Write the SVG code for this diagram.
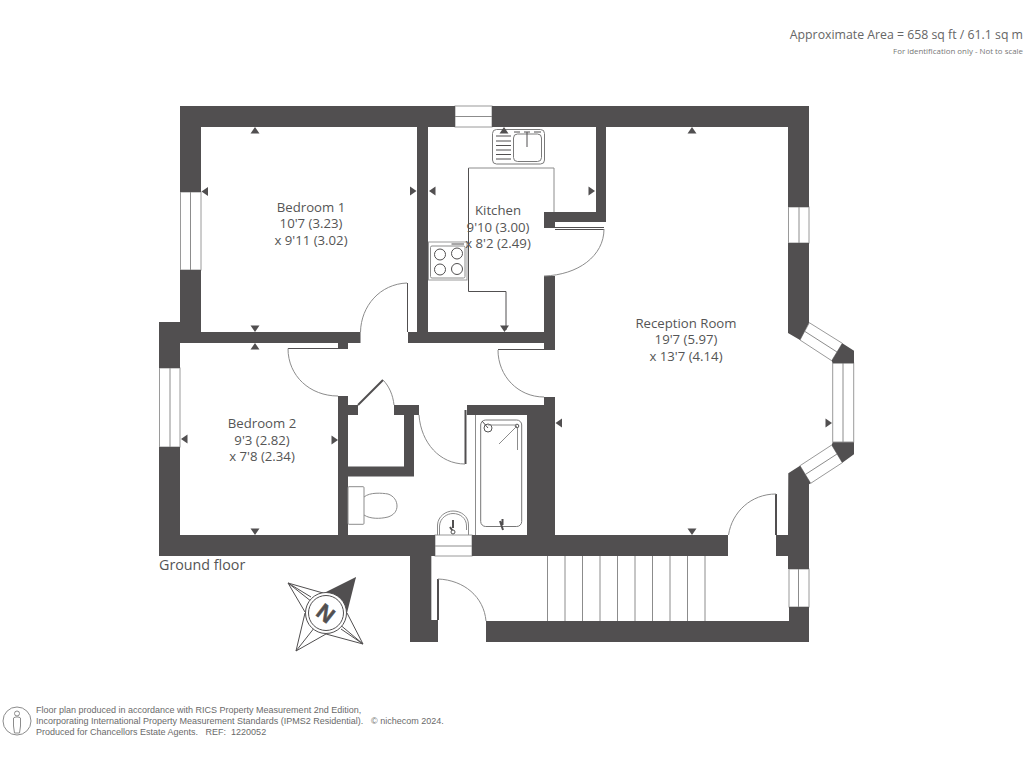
<svg xmlns="http://www.w3.org/2000/svg" width="1024" height="768" viewBox="0 0 1024 768">
<style>
.w{fill:#514f50;stroke:none}
.g{fill:#fff;stroke:#9a9a9a;stroke-width:1}
.l{fill:none;stroke:#8c8c8c;stroke-width:1}
.d{fill:none;stroke:#514f50;stroke-width:1}
.k{fill:none;stroke:#514f50;stroke-width:2}
.t{font-family:"Open Sans","Noto Sans",sans-serif;fill:#555;text-anchor:middle;font-size:13.200px}
.f{font-family:"Liberation Sans",Arial,sans-serif;fill:#6a6a6a;font-size:9px}
</style>
<defs>
<path id="u" class="w" d="M-4.500 6.500L0 0L4.500 6.500Z"/>
</defs>
<rect width="1024" height="768" fill="#fff"/>
<g id="windows">
<rect class="g" x="455" y="106" width="37" height="21"/><path class="l" d="M455 116.500H492"/>
<rect class="g" x="180.500" y="192" width="20.500" height="78"/><path class="l" d="M190.500 192V270"/>
<rect class="g" x="159.500" y="368" width="20.500" height="79"/><path class="l" d="M170 368V447"/>
<rect class="g" x="788.500" y="207" width="20.500" height="36"/><path class="l" d="M799 207V243"/>
<rect class="g" x="832.700" y="363" width="21" height="79"/><path class="l" d="M843 363V442"/>
<rect class="g" x="789" y="569" width="20" height="38"/><path class="l" d="M798.500 569V607"/>
<rect class="g" x="435" y="535" width="37" height="21"/><path class="l" d="M435 546H472"/>
<path class="g" d="M809.300 322.700L842.300 343.300L831.700 360.700L800 340Z"/><path class="l" d="M804.700 331.300L837 352"/>
<path class="g" d="M831.700 445L842.300 462.700L810.700 483.300L800 465.700Z"/><path class="l" d="M837 454L805.300 474.500"/>
</g>
<g id="walls">
<path class="w" d="M180 106H455V127H201V192H180ZM492 106H809V207H788V127H606V222H555V228H544V212H596V127H492ZM180 270H201V332H360.500V343H180ZM417 127H428V332H544V276H555V350H544V343H408V332H417Z"/>
<path class="w" d="M788 243H809V322.700L800 340L788 333ZM842.300 343.300L854 350.700V363.300H832.700L831.700 360.700ZM832.700 442.300H854V454.300L842.300 462.700L831.700 445ZM788.300 473.300L800 465.700L810.700 483.300L809 484.300V569H788V556H776V535H788Z"/>
<path class="w" d="M159 322H180V368H159ZM159 447H180V535H338V396H348V535H435V556H159ZM472 535H728V556H555V535H527V415H467V405H544V397H555V535H555V556H472ZM338 343H348V349H338Z"/>
<path class="w" d="M789 607H809V642H486V621H789ZM410 556H431V620H438V642H410Z"/>
<path class="w" d="M348 405H358V415H348ZM394 405H419V415H414V476.500H348V466.500H404V415H394Z"/>
</g>
<g id="doors">
<path class="d" d="M288 348.500H338"/><path class="l" d="M288 348.500C288 376 310 396 338 396"/>
<path class="d" d="M407.500 283V332" stroke-width="2"/><path class="l" d="M407 283C380 284 361 306 360.500 332"/>
<path class="d" d="M498 349.500H544"/><path class="l" d="M498 350C498 376 518 397 544 397"/>
<path class="k" d="M465.500 410V464"/><path class="l" d="M419 415C421 443 440 464 465 464"/>
<path class="k" d="M358 405L383 380"/><path class="l" d="M383 380C389 386 393 395 394 405"/>
<path class="d" d="M555 227.500H604M555 229.500H604"/><path class="l" d="M604 229C604 256 578 275 544 276"/>
<path class="k" d="M776 494V535"/><path class="l" d="M776 494C751 494 732 512 728.500 535"/>
<path class="k" d="M438 579V620"/><path class="l" d="M438 579C464 580 484 597 486 621"/>
</g>
<g id="kitchen-fittings">
<path class="d" d="M506 330V291.500H468.500V168"/><path class="l" d="M468.500 168H554V212"/>
<rect x="492.500" y="129.500" width="52" height="34.500" rx="4" fill="#fff" stroke="#7a7a7a"/>
<rect x="513.500" y="134" width="28" height="27.500" rx="4" fill="none" stroke="#7a7a7a"/>
<path class="d" d="M496 136H511M496 141H511M496 145.500H511M496 150H511M496 154.500H511M496 159H511" stroke-width="1.500"/>
<path class="d" d="M527 132V147M514 132H520M534 132H541M524 132H530"/>
<rect x="428.500" y="242" width="38.500" height="38" fill="#fff" stroke="#999"/>
<rect x="430.500" y="246" width="34.500" height="32" rx="1.500" fill="none" stroke="#8c8c8c"/>
<g class="d"><circle cx="440" cy="254.500" r="5.500"/><circle cx="457" cy="253.500" r="5.500"/><circle cx="440" cy="269.500" r="5.500"/><circle cx="457" cy="269" r="5.500"/></g>
<path class="d" d="M451.500 244H464"/>
</g>
<g id="bath-fittings">
<path class="l" d="M475.500 415V535"/>
<rect x="480.700" y="420" width="41" height="106.500" rx="5" fill="none" stroke="#777"/>
<circle cx="488" cy="428" r="4" fill="#fff" stroke="#555"/><path class="d" d="M482 421L488 428"/>
<circle cx="517" cy="426" r="1.800" fill="#fff" stroke="#555"/>
<path class="l" d="M488 425H517M517 426L499 444M517.500 428V450"/>
<path class="k" d="M500 521L503 530M502.500 519V525"/>
<rect x="348" y="486.700" width="16" height="37.600" rx="1" fill="#fff" stroke="#8c8c8c"/>
<path class="l" d="M364 497C370 492 382 493 388 494C394 496 397 501 397 506C397 511 394 515 388 517C380 519 370 519 364 515"/>
<path class="l" d="M437.500 535V525C438 516 446 511 453 511C461 511 468.500 516 468.500 525V535M439.500 535V526C440 518 447 513.500 453 513.500C460 513.500 466.500 518 466.500 526V530"/>
<path class="k" d="M453 520V528M450 527L454 533"/><circle cx="453" cy="532" r="2" fill="#fff" stroke="#555"/>
</g>
<g id="stairs"><path d="M431.500 556V620" fill="none" stroke="#c4c4c4"/><path class="l" d="M547.500 556V621M565 556V621M582.500 556V621M600 556V621M617.500 556V621M635 556V621M652.500 556V621M670 556V621M687.500 556V621M705 556V621"/></g>
<g id="arrows">
<use href="#u" x="255" y="127"/><use href="#u" transform="translate(201.500 191.500) rotate(-90)"/><use href="#u" transform="translate(416.500 191) rotate(90)"/><use href="#u" transform="translate(255 332) rotate(180)"/>
<use href="#u" x="255" y="343"/><use href="#u" transform="translate(181 439) rotate(-90)"/><use href="#u" transform="translate(338 440) rotate(90)"/><use href="#u" transform="translate(255 535) rotate(180)"/>
<use href="#u" x="504" y="127"/><use href="#u" transform="translate(429 191) rotate(-90)"/><use href="#u" transform="translate(595 191) rotate(90)"/><use href="#u" transform="translate(504.500 332) rotate(180)"/>
<use href="#u" x="692" y="127"/><use href="#u" transform="translate(555.500 423) rotate(-90)"/><use href="#u" transform="translate(832 423) rotate(90)"/><use href="#u" transform="translate(692 535) rotate(180)"/>
</g>
<g id="bedroom-1" class="t"><text x="311" y="211.500">Bedroom 1</text><text x="311" y="228">10'7 (3.23)</text><text x="311" y="244.500">x 9'11 (3.02)</text></g>
<g id="kitchen" class="t"><text x="498" y="214.500">Kitchen</text><text x="498" y="231.500">9'10 (3.00)</text><text x="498" y="247.500">x 8'2 (2.49)</text></g>
<g id="reception-room" class="t"><text x="686" y="327.500">Reception Room</text><text x="686" y="344">19'7 (5.97)</text><text x="686" y="360.500">x 13'7 (4.14)</text></g>
<g id="bedroom-2" class="t"><text x="262" y="428">Bedroom 2</text><text x="262" y="444.500">9'3 (2.82)</text><text x="262" y="460.500">x 7'8 (2.34)</text></g>
<text x="159" y="570" font-family="'Open Sans','Noto Sans',sans-serif" font-size="14.300" fill="#555">Ground floor</text>
<g id="compass">
<path d="M326 613L356 577L340 612Z" fill="#514f50"/>
<path d="M326 592L356 577L347 613Z" fill="#514f50"/>
<path class="d" d="M288 583L311 597M288 583L305 612M288 583L326 613M363 644L341 629M363 644L347 613M363 644L326 613M296 651L305 613M296 651L326 634M296 651L326 613M323 593L288 583M363 644L326 634"/>
<circle cx="326" cy="613" r="20.500" fill="#fff" stroke="#514f50"/><circle cx="326" cy="613" r="17.500" fill="#fff" stroke="#514f50"/>
<text transform="translate(326 613) rotate(38)" y="8" text-anchor="middle" font-family="'Liberation Sans',sans-serif" font-weight="700" font-size="22" fill="#514f50" stroke="#514f50" stroke-width="0.600">N</text>
</g>
<g id="area-note">
<text x="1023" y="38.500" text-anchor="end" font-family="'Open Sans','Noto Sans',sans-serif" font-size="12.300" fill="#666">Approximate Area = 658 sq ft / 61.1 sq m</text>
<text x="1023" y="54" text-anchor="end" font-family="'Open Sans','Noto Sans',sans-serif" font-size="7.900" fill="#777">For identification only - Not to scale</text>
</g>
<g id="footer">
<circle cx="17" cy="721" r="14" fill="none" stroke="#8c8c8c"/>
<circle cx="17" cy="713.500" r="2.500" fill="none" stroke="#8c8c8c"/>
<path class="l" d="M13.500 718C15 716.500 19 716.500 20.500 718V726L19.500 733H14.500L13.500 726Z"/>
<text class="f" x="36" y="713">Floor plan produced in accordance with RICS Property Measurement 2nd Edition,</text>
<text class="f" x="36" y="724">Incorporating International Property Measurement Standards (IPMS2 Residential).</text>
<text class="f" x="36" y="735" xml:space="preserve">Produced for Chancellors Estate Agents.   REF:  1220052</text>
<text class="f" x="371" y="724">© nichecom 2024.</text>
</g>
</svg>
